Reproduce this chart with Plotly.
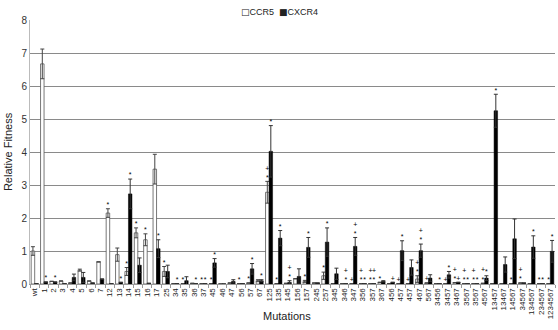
import plotly.graph_objects as go

categories = ["wt", "1", "2", "3", "4", "5", "6", "7", "12", "13", "14", "15", "16", "17", "25",
              "34", "35", "36", "37", "45", "46", "47", "56", "57", "67", "125", "135", "145",
              "156", "157", "245", "257", "345", "346", "347", "356", "357", "367", "456", "457",
              "457", "467", "567", "3456", "3457", "3467", "3567", "3567", "4567", "13457",
              "13467", "14567", "34567", "134567", "234567", "1234567"]

ccr5 = [1.00, 6.67, 0.08, 0.09, 0.03, 0.42, 0.09, 0.67, 2.15, 0.89, 0.38, 1.55, 1.34, 3.48, 0.38,
        0.01, 0.01, 0.02, 0.01, 0.01, 0.0, 0.03, 0.01, 0.03, 0.10, 2.78, 0.01, 0.02,
        0.16, 0.08, 0.03, 0.25, 0.01, 0.01, 0.01, 0.01, 0.01, 0.05, 0.01, 0.01,
        0.01, 0.15, 0.03, 0.01, 0.01, 0.04, 0.01, 0.01, 0.02, 0.01,
        0.01, 0.01, 0.03, 0.01, 0.01, 0.01]
ccr5_err = [0.13, 0.45, None, None, None, 0.03, None, None, 0.13, 0.20, 0.12, 0.15, 0.18, 0.45, 0.15,
            None, None, None, None, None, None, None, None, None, 0.03, 0.33, None, None,
            None, 0.03, None, 0.11, None, None, None, None, None, None, None, None,
            None, 0.10, None, None, None, None, None, None, None, None,
            None, None, None, None, None, None]

cxcr4 = [0.01, 0.06, 0.06, 0.01, 0.20, 0.20, 0.03, 0.15, 0.01, 0.05, 2.73, 0.57, 0.02, 1.07, 0.38,
         0.01, 0.10, 0.01, 0.01, 0.64, 0.0, 0.08, 0.01, 0.46, 0.10, 4.02, 1.39, 0.05,
         0.23, 1.11, 0.03, 1.27, 0.31, 0.01, 1.14, 0.01, 0.01, 0.08, 0.05, 1.01,
         0.50, 1.01, 0.18, 0.01, 0.28, 0.05, 0.01, 0.01, 0.18, 5.25,
         0.59, 1.37, 0.03, 1.12, 0.01, 0.99]
cxcr4_err = [None, None, None, None, 0.10, 0.15, None, None, None, None, 0.45, 0.22, None, 0.27, 0.19,
             None, 0.12, None, None, 0.13, None, 0.05, None, 0.16, 0.03, 0.78, 0.23, 0.05,
             0.23, 0.30, None, 0.43, 0.17, None, 0.27, None, None, 0.02, None, 0.30,
             0.23, 0.20, 0.10, None, 0.10, None, None, None, 0.07, 0.50,
             0.23, 0.60, None, 0.34, None, 0.33]

ccr5_sig = ["", "", "", "", "", "", "", "", "*", "", "*", "*", "*", "", "*",
            "", "*", "", "*", "*", "", "", "*", "*", "", "+<br>*", "*", "",
            "", "*", "", "*", "", "", "+", "+<br>*", "+<br>*", "*", "", "+",
            "+", "+<br>*", "+", "", "+", "+<br>*", "+<br>*", "+<br>*", "+<br>*", "",
            "", "*", "+<br>*", "", "*", "*"]
cxcr4_sig = ["", "*", "*", "", "", "", "", "", "", "*", "*", "", "", "*", "",
             "*", "", "*", "*", "*", "", "", "", "*", "*", "*", "*", "+<br>*",
             "", "*", "", "*", "", "+<br>*", "+<br>*", "*", "+<br>*", "", "+", "*",
             "", "+<br>*", "", "*", "*", "+", "*", "*", "*", "*",
             "", "", "", "*", "*", "*"]

legend_text = "<span style='font-family:DejaVu Sans'>□</span>CCR5  <span style='font-family:DejaVu Sans'>■</span>CXCR4"

n = len(categories)
xs = list(range(n))
half = 0.1875

def tops(vals, errs):
    return [v + (e or 0) for v, e in zip(vals, errs)]

fig = go.Figure()
fig.add_trace(go.Bar(
    x=xs, y=ccr5, name="CCR5", showlegend=False,
    marker=dict(color="white", line=dict(color="#555555", width=0.8)),
    error_y=dict(type="data", array=ccr5_err, color="#444444", thickness=1, width=2),
))
fig.add_trace(go.Bar(
    x=xs, y=cxcr4, name="CXCR4", showlegend=False,
    marker=dict(color="black", line=dict(color="black", width=0.5)),
    error_y=dict(type="data", array=cxcr4_err, color="#333333", thickness=1, width=2),
))
fig.add_trace(go.Scatter(
    x=[i - half for i in xs], y=tops(ccr5, ccr5_err), text=ccr5_sig, mode="text",
    textposition="top center", textfont=dict(size=7, color="black"),
    showlegend=False, hoverinfo="skip", cliponaxis=False,
))
fig.add_trace(go.Scatter(
    x=[i + half for i in xs], y=tops(cxcr4, cxcr4_err), text=cxcr4_sig, mode="text",
    textposition="top center", textfont=dict(size=7, color="black"),
    showlegend=False, hoverinfo="skip", cliponaxis=False,
))

fig.update_layout(
    width=558, height=330,
    margin=dict(l=30, r=3, t=20, b=46),
    paper_bgcolor="white", plot_bgcolor="white",
    barmode="group", bargap=0.25, bargroupgap=0,
    font=dict(family="Liberation Sans, Arial, sans-serif", size=9, color="#222222"),
    showlegend=False,
    xaxis=dict(
        automargin=False,
        range=[-0.5, n - 0.5], tickmode="array", tickvals=xs, ticktext=categories,
        tickangle=-90, tickfont=dict(size=8), showgrid=False, zeroline=False,
        showline=True, linecolor="#999999", linewidth=1, ticks="",
        minor=dict(tick0=-0.5, dtick=1, ticks="outside", ticklen=3, tickcolor="#999999"),
    ),
    yaxis=dict(
        automargin=False,
        range=[0, 8], dtick=1, showgrid=True, gridcolor="#8a8a8a", gridwidth=1,
        zeroline=False, showline=True, linecolor="#bbbbbb", linewidth=1,
        tickfont=dict(size=10, color="#333333"), ticks="",
        title=dict(text="Relative Fitness", font=dict(size=11, color="#222222"), standoff=6),
    ),
    annotations=[
        dict(text="Mutations", x=0.49, xref="paper", y=-(316 - 284) / 264, yref="paper",
             yanchor="middle", showarrow=False, font=dict(size=11, color="#222222")),
        dict(text=legend_text, x=0.475, xref="paper", y=1 + (20 - 12) / 264, yref="paper",
             yanchor="middle", showarrow=False, font=dict(size=9, color="#222222")),
    ],
)

fig.write_html(
    "out.html",
    config={"displayModeBar": False},
    post_script="document.body.style.margin='0';document.body.style.overflow='hidden';",
)
